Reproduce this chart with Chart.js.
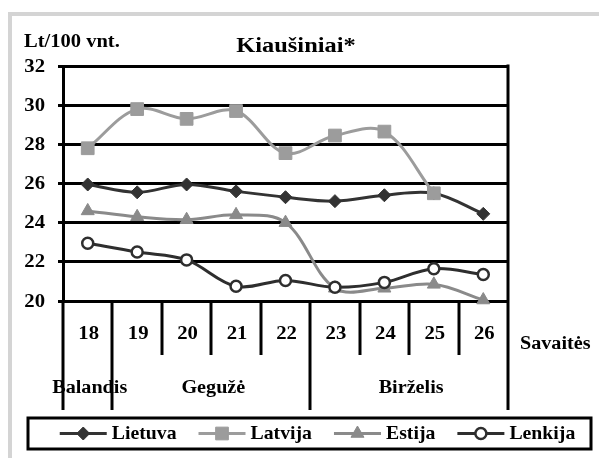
<!DOCTYPE html>
<html>
<head>
<meta charset="utf-8">
<script src="https://cdn.jsdelivr.net/npm/chart.js@4"></script>
<style>
  html, body { margin: 0; padding: 0; background: #fff; }
  #wrap { width: 599px; height: 458px; }
</style>
</head>
<body>
<div id="wrap"><canvas id="chart" width="599" height="458"></canvas></div>
<script>
// week numbers on the x axis
const weeks = ['18', '19', '20', '21', '22', '23', '24', '25', '26'];
// months and how many weeks each covers
const months = ['Balandis', 'Gegužė', 'Birželis'];
const monthWeeks = [1, 4, 4];

const lietuva = [25.95, 25.55, 25.95, 25.6, 25.3, 25.1, 25.4, 25.5, 24.45];
const latvija = [27.8, 29.8, 29.3, 29.7, 27.55, 28.45, 28.65, 25.5, null];
const estija  = [24.6, 24.3, 24.15, 24.4, 24.0, 20.65, 20.65, 20.85, 20.05];
const lenkija = [22.95, 22.5, 22.1, 20.75, 21.05, 20.7, 20.95, 21.65, 21.35];

const yMin = 20, yMax = 32, yStep = 2;

const FONT = '"Liberation Serif", "Times New Roman", serif';

// bold serif text, stretched sideways like the original picture
function txt(ctx, s, x, y, size, sx, align) {
    ctx.save();
    ctx.font = 'bold ' + size + 'px ' + FONT;
    ctx.textAlign = align || 'left';
    ctx.textBaseline = 'middle';
    ctx.fillStyle = '#000';
    ctx.translate(x, y);
    ctx.scale(sx, 1);
    ctx.fillText(s, 0, 0);
    ctx.restore();
}

function txtWidth(ctx, s, size, sx) {
    ctx.save();
    ctx.font = 'bold ' + size + 'px ' + FONT;
    const w = ctx.measureText(s).width * sx;
    ctx.restore();
    return w;
}

const extras = {
    id: 'extras',
    afterDraw(chart) {
        const ctx = chart.ctx;
        const a = chart.chartArea;
        const x = chart.scales.x;
        const y = chart.scales.y;
        ctx.save();

        // grey outer frame
        ctx.strokeStyle = '#d4d4d4';
        ctx.lineWidth = 4;
        ctx.strokeRect(10, 14, 620, 480);

        // right border of plot
        ctx.strokeStyle = '#000';
        ctx.lineWidth = 3;
        ctx.beginPath();
        ctx.moveTo(a.right, a.top - 1.5);
        ctx.lineTo(a.right, a.bottom);
        ctx.stroke();

        // week separators below the plot, longer at month boundaries
        const longIdx = [0];
        monthWeeks.reduce((s, n) => { longIdx.push(s + n); return s + n; }, 0);
        for (let i = 0; i <= weeks.length; i++) {
            const px = Math.round(x.getPixelForValue(i - 0.5));
            const len = longIdx.includes(i) ? 109 : 54;
            ctx.beginPath();
            ctx.moveTo(px, a.bottom);
            ctx.lineTo(px, a.bottom + len);
            ctx.stroke();
        }

        // tick labels
        y.ticks.forEach(t => {
            txt(ctx, String(t.value), a.left - 18, y.getPixelForValue(t.value) + 1, 18, 1.15, 'right');
        });
        weeks.forEach((w, i) => {
            txt(ctx, w, x.getPixelForValue(i) + 1, a.bottom + 33, 18, 1.15, 'center');
        });

        // month labels
        let start = 0;
        months.forEach((m, k) => {
            const l = x.getPixelForValue(start - 0.5);
            const r = x.getPixelForValue(start + monthWeeks[k] - 0.5);
            txt(ctx, m, (l + r) / 2 + 2, a.bottom + 87, 18, 1.12, 'center');
            start += monthWeeks[k];
        });

        // axis titles and chart title
        txt(ctx, 'Lt/100 vnt.', 24, 42, 18, 1.14, 'left');
        txt(ctx, 'Savaitės', 520, 344, 18, 1.12, 'left');
        txt(ctx, 'Kiaušiniai*', 296, 47, 20, 1.22, 'center');

        // legend
        const bx = 28, by = 418, bw = 563, bh = 31;
        ctx.fillStyle = '#fff';
        ctx.fillRect(bx, by, bw, bh);
        ctx.lineWidth = 3;
        ctx.strokeStyle = '#000';
        ctx.strokeRect(bx, by, bw, bh);
        const lineLen = 47, gap = 5, itemGap = 22, lsz = 19, lsx = 1.04;
        const items = chart.data.datasets;
        let total = 0;
        items.forEach(d => { total += lineLen + gap + txtWidth(ctx, d.label, lsz, lsx); });
        total += itemGap * (items.length - 1);
        let cx = bx + (bw - total) / 2 + 8;
        const cy = by + bh / 2;
        items.forEach(d => {
            ctx.strokeStyle = d.borderColor;
            ctx.lineWidth = 3;
            ctx.beginPath();
            ctx.moveTo(cx, cy);
            ctx.lineTo(cx + lineLen, cy);
            ctx.stroke();
            ctx.fillStyle = d.pointBackgroundColor;
            ctx.strokeStyle = d.pointBorderColor;
            ctx.lineWidth = d.pointBorderWidth;
            Chart.helpers.drawPoint(ctx, {
                pointStyle: d.pointStyle,
                radius: d.pointRadius,
                borderWidth: d.pointBorderWidth,
                rotation: 0
            }, cx + lineLen / 2, cy);
            txt(ctx, d.label, cx + lineLen + gap, cy + 1, lsz, lsx, 'left');
            cx += lineLen + gap + txtWidth(ctx, d.label, lsz, lsx) + itemGap;
        });

        ctx.restore();
    }
};

const common = {
    borderWidth: 3,
    tension: 0.35,
    fill: false,
    clip: false,
    spanGaps: false
};

new Chart(document.getElementById('chart'), {
    type: 'line',
    data: {
        labels: weeks,
        datasets: [
            Object.assign({}, common, {
                label: 'Lietuva', data: lietuva, order: 3,
                borderColor: '#333333', pointStyle: 'rectRot', pointRadius: 6.5,
                pointBackgroundColor: '#333333', pointBorderColor: '#333333', pointBorderWidth: 1
            }),
            Object.assign({}, common, {
                label: 'Latvija', data: latvija, order: 2,
                borderColor: '#9c9c9c', pointStyle: 'rect', pointRadius: 9,
                pointBackgroundColor: '#9c9c9c', pointBorderColor: '#9c9c9c', pointBorderWidth: 1
            }),
            Object.assign({}, common, {
                label: 'Estija', data: estija, order: 1,
                borderColor: '#8a8a8a', pointStyle: 'triangle', pointRadius: 7.5,
                pointBackgroundColor: '#8a8a8a', pointBorderColor: '#8a8a8a', pointBorderWidth: 1
            }),
            Object.assign({}, common, {
                label: 'Lenkija', data: lenkija, order: 0,
                borderColor: '#2e2e2e', pointStyle: 'circle', pointRadius: 5.5,
                pointBackgroundColor: '#ffffff', pointBorderColor: '#2e2e2e', pointBorderWidth: 2.5
            })
        ]
    },
    options: {
        responsive: false,
        animation: false,
        devicePixelRatio: 1,
        layout: { padding: { top: 66, left: 0, right: 91, bottom: 0 } },
        plugins: {
            legend: { display: false },
            title: { display: false },
            tooltip: { enabled: false }
        },
        scales: {
            x: {
                type: 'category',
                offset: true,
                afterFit(s) { s.height = 157; },
                grid: { display: false },
                border: { display: false },
                ticks: { display: false, autoSkip: false }
            },
            y: {
                min: yMin,
                max: yMax,
                afterFit(s) { s.width = 63; },
                grid: { color: '#000', lineWidth: 3, tickLength: 5, tickColor: '#000' },
                border: { display: true, color: '#000', width: 3 },
                ticks: { display: false, stepSize: yStep }
            }
        }
    },
    plugins: [extras]
});
</script>
</body>
</html>
